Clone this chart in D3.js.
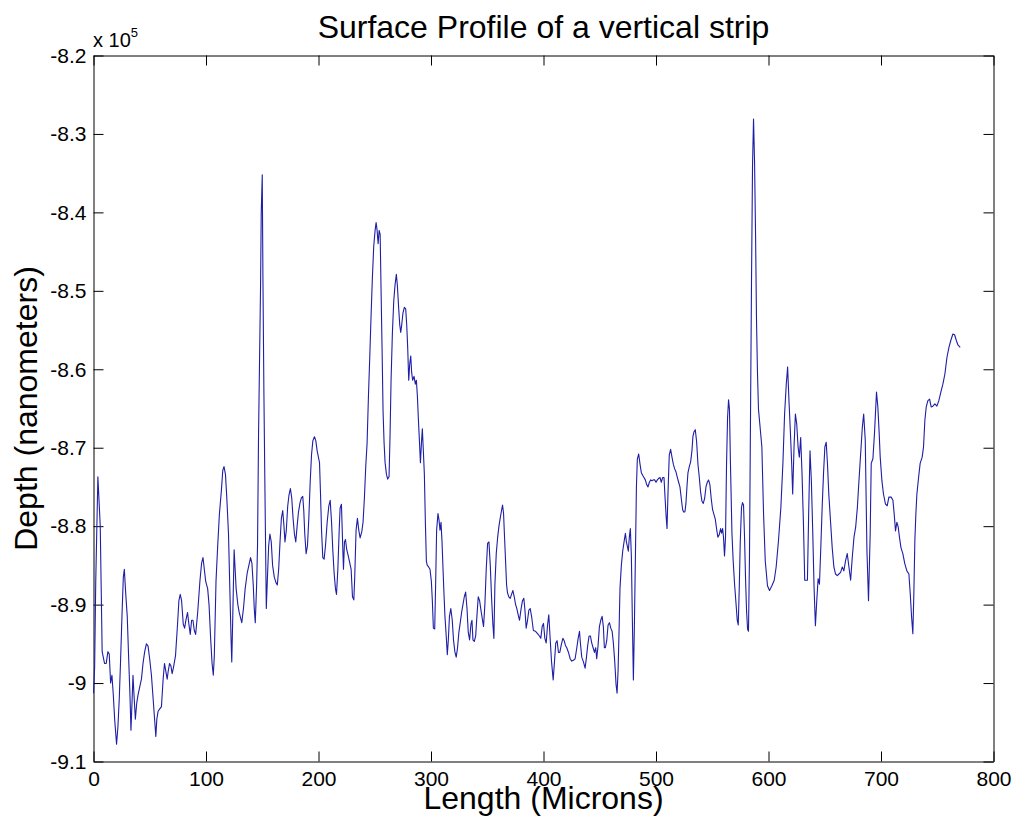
<!DOCTYPE html>
<html>
<head>
<meta charset="utf-8">
<script src="https://cdn.jsdelivr.net/npm/d3@7"></script>
<style>
  body { margin: 0; background: #fff; }
  svg { display: block; font-family: "Liberation Sans", Arial, sans-serif; }
</style>
</head>
<body>
<svg></svg>
<script>
// Length along the strip (microns)
const lengthMicrons = [
  0, 1, 2, 3.9, 4.8, 6, 6.8, 7.7, 9.8, 11.3, 12.8, 14, 15.2, 16.4, 17.6, 18.8, 20.5, 21.7, 22.9, 24.1,
  25.3, 26.5, 27.4, 28.6, 30, 31.3, 32.4, 33.3, 34.2, 35.1, 36, 37.2, 38.4, 39.6, 41.1, 42.6, 44, 45.5, 47, 48.5,
  50, 51.5, 53, 54.5, 55.4, 56.3, 57.4, 58.9, 60.4, 61.9, 63.1, 64.3, 65.5, 66.4, 67.6, 68.8, 69.9, 71.1, 72.9, 74.7,
  75.9, 77.1, 78.3, 79.8, 81, 82.1, 83.6, 84.8, 86, 87.2, 88.4, 89.6, 90.8, 92.6, 94.6, 96.1, 97.3, 98.5, 99.7, 101.5,
  102.7, 104.2, 105.4, 106.5, 107.4, 108.9, 110.4, 111.9, 113.7, 114.9, 116, 117.3, 118.5, 120, 121.1, 122.3, 122.9, 123.8, 125, 125.9,
  126.8, 128.3, 129.5, 131.8, 133.3, 134.8, 136.6, 138.1, 139.6, 140.8, 142, 142.9, 143.8, 145, 145.8, 146.7, 147.6, 148.5, 149.1, 150,
  150.6, 151.5, 152.4, 153, 153.6, 154.5, 155.7, 156.8, 158, 159.2, 160.7, 162.2, 163.4, 164.6, 165.8, 167, 168.2, 169.3, 170.2, 171.4,
  172.6, 173.8, 175, 176.2, 177.4, 178.6, 179.8, 181, 182.2, 183.6, 184.8, 186, 186.9, 187.8, 189, 190.2, 191.4, 192.6, 193.8, 195,
  196.4, 197.6, 198.8, 200.9, 201.8, 202.7, 203.8, 205, 206.2, 207.7, 209.2, 210.4, 211.6, 212.7, 213.9, 215.1, 216, 217.2, 218.4, 219.2,
  220.4, 221.3, 222.2, 223.1, 224, 225.1, 226.3, 227.5, 229, 230.2, 231.4, 232.2, 233.4, 234.6, 235.8, 237, 238.5, 239.6, 240.8, 242,
  243.2, 244.4, 245.6, 246.7, 247.9, 249.1, 250.3, 251.2, 252.1, 253, 253.9, 254.8, 255.6, 256.5, 257.4, 258.3, 259.2, 260.4, 261.5, 262.7,
  263.6, 264.5, 265.7, 266.9, 268, 269.2, 270.1, 271.3, 272.2, 273.1, 274, 275.1, 276.3, 277.5, 278.4, 279.3, 280.2, 281.1, 282, 282.8,
  283.7, 284.9, 286.1, 287, 287.9, 288.8, 289.8, 290.6, 291.5, 292.3, 293.2, 294.1, 295, 295.9, 296.7, 297.9, 299.1, 300.3, 301.2, 302.1,
  303.3, 304.1, 305, 306.2, 307.1, 308, 308.9, 309.8, 310.7, 311.5, 312.4, 313.3, 314.5, 315.4, 316.4, 317.6, 318.9, 320, 321.2, 322.4,
  323.6, 324.8, 326, 327.2, 328.4, 329.6, 330.8, 332, 333.1, 334.3, 335.5, 336.4, 337.3, 338.5, 339.7, 340.8, 342, 343.2, 344.4, 345.6,
  346.7, 347.9, 349.1, 350.3, 351.5, 352.7, 353.8, 355, 355.9, 356.8, 358, 359.2, 360.4, 361.5, 362.7, 363.6, 364.5, 365.4, 366.3, 367.2,
  368, 369.2, 370.4, 371.6, 372.8, 374, 375.2, 376.3, 377.5, 378.7, 379.9, 381.3, 382.5, 383.4, 384.6, 385.8, 387, 388.2, 389.6, 391,
  392.9, 394.7, 396.4, 397.6, 398.8, 400, 401.2, 402.4, 403.6, 404.7, 405.9, 407.1, 408.6, 409.8, 410.9, 412.1, 413.3, 414.5, 415.7, 417.2,
  418.4, 419.5, 420.7, 422.2, 423.7, 425.1, 426.6, 428.1, 429.6, 430.8, 432, 432.8, 434, 435.5, 437, 438.2, 439.3, 440.5, 441.7, 442.9,
  444.1, 445.3, 446.4, 447.3, 448.5, 449.7, 450.9, 452.1, 453.2, 454.1, 455, 456.2, 457.4, 458.6, 459.8, 461, 462.1, 463.3, 464.5, 465.4,
  466.3, 467.2, 468, 469.2, 470.4, 471.6, 472.8, 473.7, 474.6, 475.4, 476.3, 477.2, 478.1, 479, 479.9, 480.8, 481.7, 482.6, 483.4, 484.6,
  485.8, 487, 488.1, 489.3, 490.5, 491.7, 492.9, 494.1, 495.3, 496.4, 497.6, 498.8, 500, 501.2, 502.4, 503.6, 504.7, 505.9, 507.1, 508,
  508.9, 509.8, 510.7, 511.8, 513, 514.2, 515.4, 516.6, 517.8, 519, 520.1, 521.3, 522.5, 523.7, 524.6, 525.7, 526.6, 527.5, 528.4, 529.6,
  530.8, 532, 532.8, 533.7, 534.9, 536.1, 537.3, 538.5, 539.6, 540.8, 542, 543.2, 544.4, 545.6, 546.7, 547.9, 549.1, 550.3, 551.5, 552.7,
  553.8, 555, 556.2, 557.4, 558.3, 559.2, 560, 560.9, 561.8, 562.7, 563.6, 564.5, 565.3, 566.2, 567.5, 568.6, 569.8, 571, 572.2, 573.1,
  574, 574.9, 576, 576.9, 577.8, 578.7, 579.6, 580.5, 581.4, 582.2, 583.1, 584, 584.9, 585.8, 586.7, 587.6, 588.5, 589.3, 590.2, 591.1,
  594.1, 595.6, 597.1, 599.1, 600.9, 603, 605.1, 606.8, 608.9, 611, 612.8, 614.3, 615.8, 617, 618.2, 619.4, 620.6, 621.5, 622.7, 623.9,
  625.1, 626.3, 627.4, 628.6, 629.8, 631, 632.2, 633.4, 634.6, 635.7, 636.9, 638.1, 639.3, 640.5, 641.7, 642.9, 644.1, 645.3, 646.5, 647.7,
  648.9, 650.1, 651.3, 652.4, 653.6, 655.1, 656.6, 658.1, 659.6, 661.1, 662.6, 664.1, 665.6, 667, 668.5, 670, 671.5, 673, 674.5, 676,
  677.5, 679, 680.4, 681.9, 683.4, 684.6, 686, 687.5, 688.9, 690.4, 691.3, 692.8, 694.2, 696, 697.2, 698.4, 699.3, 700.8, 702.2, 704,
  705.5, 707, 709, 710.6, 711.7, 712.9, 714.1, 715.3, 716.4, 717.7, 719.4, 721.2, 723, 724.8, 726, 727.2, 728.3, 729.2, 730.1, 731,
  731.9, 733.4, 734.8, 736.6, 737.8, 739, 740.2, 741.7, 743.2, 744.6, 746.1, 747.9, 749.7, 751.4, 753.2, 755, 756.8, 758.6, 760.4, 762.1,
  763.9, 765.4, 766.9, 768.4, 770.4
];

// Depth (nanometers, in units of 10^5)
const depthE5 = [
  -9.013, -8.98, -8.87, -8.737, -8.764, -8.80, -8.875, -8.96, -8.975, -8.975, -8.96, -8.963, -9.0, -8.99, -9.015, -9.046, -9.078, -9.056, -9.02, -8.97,
  -8.915, -8.865, -8.855, -8.885, -8.915, -8.97, -9.015, -9.06, -9.026, -8.99, -9.015, -9.046, -9.026, -9.015, -9.005, -8.995, -8.975, -8.96, -8.95, -8.953,
  -8.97, -8.99, -9.02, -9.05, -9.068, -9.046, -9.036, -9.033, -9.03, -8.995, -8.975, -8.985, -8.995, -8.985, -8.975, -8.978, -8.988, -8.98, -8.965, -8.925,
  -8.895, -8.887, -8.895, -8.925, -8.93, -8.92, -8.91, -8.925, -8.938, -8.92, -8.92, -8.933, -8.938, -8.91, -8.87, -8.847, -8.84, -8.855, -8.87, -8.88,
  -8.9, -8.945, -8.975, -8.99, -8.965, -8.87, -8.825, -8.785, -8.754, -8.729, -8.724, -8.734, -8.764, -8.81, -8.875, -8.945, -8.973, -8.915, -8.83, -8.855,
  -8.88, -8.9, -8.91, -8.923, -8.905, -8.88, -8.86, -8.85, -8.84, -8.847, -8.875, -8.905, -8.923, -8.875, -8.825, -8.684, -8.588, -8.493, -8.4, -8.352,
  -8.483, -8.634, -8.754, -8.83, -8.905, -8.87, -8.825, -8.81, -8.82, -8.85, -8.865, -8.872, -8.875, -8.855, -8.82, -8.79, -8.78, -8.8, -8.82, -8.805,
  -8.775, -8.76, -8.752, -8.764, -8.79, -8.81, -8.82, -8.8, -8.782, -8.77, -8.764, -8.762, -8.78, -8.81, -8.835, -8.825, -8.79, -8.744, -8.709, -8.691,
  -8.686, -8.691, -8.704, -8.719, -8.759, -8.805, -8.84, -8.842, -8.825, -8.795, -8.774, -8.767, -8.795, -8.83, -8.86, -8.88, -8.887, -8.855, -8.805, -8.777,
  -8.772, -8.815, -8.855, -8.82, -8.817, -8.83, -8.837, -8.845, -8.855, -8.89, -8.894, -8.865, -8.805, -8.79, -8.805, -8.815, -8.807, -8.795, -8.764, -8.724,
  -8.694, -8.634, -8.583, -8.533, -8.483, -8.443, -8.423, -8.413, -8.423, -8.44, -8.423, -8.428, -8.498, -8.573, -8.654, -8.694, -8.719, -8.734, -8.74, -8.737,
  -8.684, -8.614, -8.553, -8.513, -8.493, -8.479, -8.493, -8.523, -8.543, -8.553, -8.543, -8.528, -8.521, -8.523, -8.543, -8.573, -8.614, -8.593, -8.583, -8.604,
  -8.614, -8.609, -8.619, -8.614, -8.634, -8.664, -8.694, -8.719, -8.694, -8.676, -8.704, -8.734, -8.795, -8.845, -8.85, -8.852, -8.855, -8.87, -8.895, -8.93,
  -8.931, -8.875, -8.805, -8.784, -8.792, -8.805, -8.795, -8.82, -8.855, -8.885, -8.915, -8.935, -8.964, -8.945, -8.915, -8.905, -8.92, -8.945, -8.96, -8.967,
  -8.955, -8.935, -8.923, -8.91, -8.9, -8.89, -8.884, -8.905, -8.935, -8.945, -8.925, -8.92, -8.945, -8.947, -8.94, -8.915, -8.89, -8.895, -8.907, -8.918,
  -8.928, -8.9, -8.855, -8.822, -8.82, -8.85, -8.89, -8.925, -8.943, -8.875, -8.835, -8.815, -8.8, -8.79, -8.78, -8.773, -8.784, -8.815, -8.845, -8.875,
  -8.885, -8.89, -8.892, -8.887, -8.882, -8.89, -8.9, -8.905, -8.913, -8.92, -8.907, -8.895, -8.892, -8.905, -8.93, -8.92, -8.907, -8.905, -8.917, -8.933,
  -8.934, -8.937, -8.94, -8.943, -8.928, -8.924, -8.943, -8.949, -8.926, -8.913, -8.943, -8.972, -8.996, -8.972, -8.949, -8.946, -8.961, -8.961, -8.952, -8.943,
  -8.946, -8.952, -8.955, -8.961, -8.969, -8.972, -8.971, -8.969, -8.955, -8.943, -8.934, -8.949, -8.967, -8.973, -8.981, -8.967, -8.952, -8.94, -8.94, -8.949,
  -8.955, -8.961, -8.955, -8.969, -8.952, -8.928, -8.92, -8.915, -8.928, -8.955, -8.955, -8.946, -8.926, -8.923, -8.93, -8.934, -8.949, -8.972, -9.002, -9.013,
  -8.984, -8.931, -8.879, -8.85, -8.832, -8.82, -8.809, -8.82, -8.826, -8.832, -8.814, -8.803, -8.838, -8.92, -8.996, -8.926, -8.838, -8.75, -8.715, -8.708,
  -8.721, -8.732, -8.735, -8.738, -8.741, -8.747, -8.75, -8.744, -8.741, -8.742, -8.741, -8.741, -8.744, -8.741, -8.739, -8.738, -8.744, -8.738, -8.738, -8.762,
  -8.785, -8.803, -8.756, -8.709, -8.702, -8.712, -8.721, -8.727, -8.731, -8.738, -8.744, -8.75, -8.765, -8.779, -8.782, -8.782, -8.771, -8.75, -8.732, -8.724,
  -8.718, -8.703, -8.686, -8.68, -8.677, -8.692, -8.721, -8.738, -8.756, -8.768, -8.771, -8.765, -8.75, -8.744, -8.741, -8.747, -8.765, -8.779, -8.785, -8.791,
  -8.803, -8.814, -8.811, -8.803, -8.809, -8.803, -8.814, -8.838, -8.814, -8.721, -8.662, -8.639, -8.651, -8.721, -8.809, -8.844, -8.873, -8.896, -8.92, -8.926,
  -8.879, -8.82, -8.776, -8.77, -8.773, -8.814, -8.867, -8.908, -8.931, -8.934, -8.838, -8.662, -8.487, -8.34, -8.281, -8.335, -8.428, -8.534, -8.604, -8.651,
  -8.699, -8.784, -8.844, -8.876, -8.882, -8.876, -8.869, -8.852, -8.818, -8.776, -8.72, -8.657, -8.619, -8.597, -8.64, -8.678, -8.72, -8.759, -8.699, -8.657,
  -8.67, -8.699, -8.712, -8.687, -8.733, -8.793, -8.869, -8.869, -8.869, -8.784, -8.704, -8.742, -8.806, -8.878, -8.927, -8.895, -8.867, -8.874, -8.827, -8.776,
  -8.733, -8.699, -8.693, -8.72, -8.759, -8.793, -8.827, -8.852, -8.861, -8.863, -8.861, -8.859, -8.852, -8.857, -8.844, -8.835, -8.852, -8.869, -8.839, -8.814,
  -8.801, -8.776, -8.742, -8.708, -8.674, -8.657, -8.69, -8.831, -8.895, -8.809, -8.72, -8.714, -8.682, -8.629, -8.648, -8.682, -8.712, -8.742, -8.759, -8.772,
  -8.774, -8.763, -8.763, -8.767, -8.784, -8.806, -8.795, -8.801, -8.814, -8.827, -8.835, -8.848, -8.857, -8.861, -8.886, -8.916, -8.937, -8.886, -8.818, -8.784,
  -8.759, -8.738, -8.72, -8.712, -8.699, -8.665, -8.648, -8.64, -8.638, -8.648, -8.647, -8.644, -8.647, -8.64, -8.629, -8.619, -8.606, -8.585, -8.572, -8.563,
  -8.555, -8.556, -8.563, -8.569, -8.572
];

const xTicks = [0, 100, 200, 300, 400, 500, 600, 700, 800];
const yTicks = [-8.2, -8.3, -8.4, -8.5, -8.6, -8.7, -8.8, -8.9, -9, -9.1];

const titleText = "Surface Profile of a vertical strip";
const xLabel = "Length (Microns)";
const yLabel = "Depth (nanometers)";

// Canvas and plot box
const svgWidth = 1018, svgHeight = 832;
const boxLeft = 93.5, boxRight = 993.5, boxTop = 55.5, boxBottom = 761.5;

const svg = d3.select("svg")
    .attr("width", svgWidth)
    .attr("height", svgHeight);

svg.append("rect")
    .attr("width", svgWidth)
    .attr("height", svgHeight)
    .attr("fill", "#fff");

const x = d3.scaleLinear().domain([0, 800]).range([boxLeft, boxRight]);
const y = d3.scaleLinear().domain([-9.1, -8.2]).range([boxBottom, boxTop]);

// MATLAB style labels: "-9" rather than "-9.0", plain hyphen
const fmtY = v => String(+v.toFixed(1));

// Bottom axis with labels, ticks pointing in
const gx = svg.append("g")
    .attr("transform", `translate(0,${boxBottom})`)
    .call(d3.axisBottom(x).tickValues(xTicks).tickFormat(d3.format("d"))
        .tickSizeInner(-10).tickSizeOuter(0).tickPadding(10));

// Left axis
const gy = svg.append("g")
    .attr("transform", `translate(${boxLeft},0)`)
    .call(d3.axisLeft(y).tickValues(yTicks).tickFormat(fmtY)
        .tickSizeInner(-10).tickSizeOuter(0).tickPadding(7));

// Top and right axes, ticks only (closes the box)
const gt = svg.append("g")
    .attr("transform", `translate(0,${boxTop})`)
    .call(d3.axisTop(x).tickValues(xTicks).tickFormat("")
        .tickSizeInner(-10).tickSizeOuter(0));

const gr = svg.append("g")
    .attr("transform", `translate(${boxRight},0)`)
    .call(d3.axisRight(y).tickValues(yTicks).tickFormat("")
        .tickSizeInner(-10).tickSizeOuter(0));

[gx, gy, gt, gr].forEach(g => {
    g.selectAll("path.domain").attr("stroke", "#000").attr("stroke-width", 1);
    g.selectAll(".tick line").attr("stroke", "#000").attr("stroke-width", 1);
    g.selectAll("text")
        .attr("fill", "#000")
        .style("font-size", "21px")
        .style("font-family", "'Liberation Sans', Arial, sans-serif");
});

// Profile line
const n = Math.min(lengthMicrons.length, depthE5.length);
const points = d3.range(n).map(i => [lengthMicrons[i], depthE5[i]]);
const line = d3.line()
    .x(d => x(d[0]))
    .y(d => y(d[1]));

svg.append("path")
    .datum(points)
    .attr("d", line)
    .attr("fill", "none")
    .attr("stroke", "#1e1ea6")
    .attr("stroke-width", 1.1)
    .attr("stroke-linejoin", "round");

// Exponent label "x 10^5"
const expo = svg.append("text")
    .attr("x", 93)
    .attr("y", 47)
    .attr("fill", "#000")
    .style("font-size", "20px")
    .text("x 10");
expo.append("tspan")
    .attr("dy", -10)
    .style("font-size", "13px")
    .text("5");

// Title
svg.append("text")
    .attr("x", (boxLeft + boxRight) / 2)
    .attr("y", 38)
    .attr("text-anchor", "middle")
    .attr("fill", "#000")
    .style("font-size", "32px")
    .text(titleText);

// Axis labels
svg.append("text")
    .attr("x", (boxLeft + boxRight) / 2)
    .attr("y", 809)
    .attr("text-anchor", "middle")
    .attr("fill", "#000")
    .style("font-size", "32px")
    .text(xLabel);

svg.append("text")
    .attr("transform", `translate(37,${(boxTop + boxBottom) / 2}) rotate(-90)`)
    .attr("text-anchor", "middle")
    .attr("fill", "#000")
    .style("font-size", "32px")
    .text(yLabel);
</script>
</body>
</html>
